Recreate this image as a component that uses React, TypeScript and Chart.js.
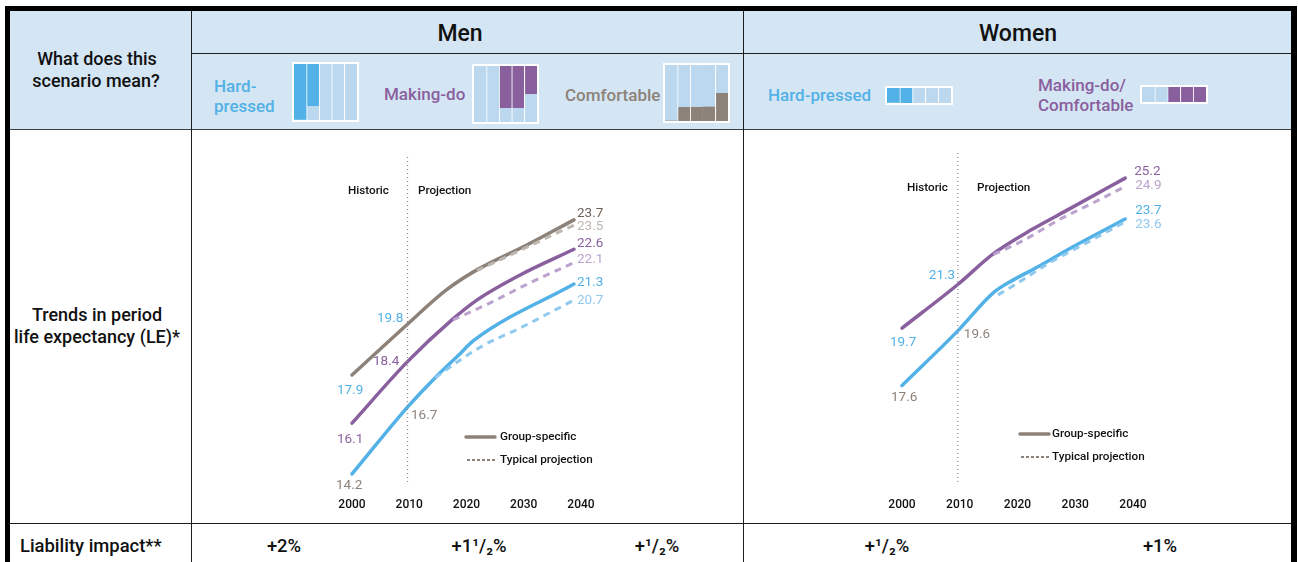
import React, { useEffect, useRef } from "react";
import { Chart, registerables } from "chart.js";

Chart.register(...registerables);

const FONT = "Roboto, sans-serif";
const INK = "#111111";
const BLUE = "#52b1e6";
const PURPLE = "#8a5f9e";
const GREY = "#8d8279";
const GREY_DARK = "#6e6258";
const BLUE_SOFT = "#8fc9ee";
const PURPLE_SOFT = "#bba3ce";
const GREY_SOFT = "#bdb7b0";
const HEADER_BG = "#d4e6f4";
const CELL_LIGHT = "#bcd8ee";

// Tick labels
const tickYears = [2000, 2010, 2020, 2030, 2040];

// Men: group-specific series
const menHardYears = [2000, 2010, 2015, 2019, 2022, 2040];
const menHardValues = [14.2, 16.7, 17.8, 18.6, 19.2, 21.3];
const menMakingYears = [2000, 2010, 2018, 2022.5, 2030.3, 2040];
const menMakingValues = [16.1, 18.4, 19.96, 20.7, 21.64, 22.6];
const menComfortYears = [2000, 2010, 2017, 2022.5, 2031.5, 2040];
const menComfortValues = [17.9, 19.8, 21.08, 21.83, 22.76, 23.7];

// Men: typical projection series
const menHardTypYears = [2015, 2019.5, 2023.6, 2030.3, 2040];
const menHardTypValues = [17.8, 18.46, 19.0, 19.66, 20.7];
const menMakingTypYears = [2018.2, 2024.9, 2032, 2040];
const menMakingTypValues = [19.96, 20.6, 21.34, 22.1];
const menComfortTypYears = [2022.5, 2029.7, 2036.2, 2040];
const menComfortTypValues = [21.8, 22.5, 23.14, 23.5];

// Women: group-specific series
const womenHardYears = [2000, 2010, 2016.4, 2019.9, 2024.2, 2030.1, 2040];
const womenHardValues = [17.6, 19.6, 21.0, 21.46, 21.93, 22.62, 23.7];
const womenMakingYears = [2000, 2010, 2016.4, 2023.5, 2030.1, 2040];
const womenMakingValues = [19.7, 21.3, 22.43, 23.34, 24.08, 25.2];

// Women: typical projection series
const womenHardTypYears = [2017.2, 2019.9, 2026.5, 2033.2, 2040];
const womenHardTypValues = [20.92, 21.25, 22.1, 22.84, 23.6];
const womenMakingTypYears = [2016.4, 2021.7, 2028.3, 2035.9, 2040];
const womenMakingTypValues = [22.4, 22.91, 23.69, 24.46, 24.9];

// Share of each scenario column that is shaded, per group
const hardPressedMen = [100, 75, 0, 0, 0];
const makingDoMen = [0, 0, 75, 75, 50];
const comfortableMen = [0, 25, 25, 25, 50];
const hardPressedWomen = [100, 100, 0, 0, 0];
const makingDoWomen = [0, 0, 100, 100, 100];

const pts = (xs: number[], ys: number[]) => xs.map((x, i) => ({ x, y: ys[i] }));

type ValueLabel = { year: number; value: number; dx: number; dy: number; color: string };
type PanelProps = {
  left: number;
  top: number;
  width: number;
  height: number;
  padding: { left: number; right: number; top: number; bottom: number };
  xMax: number;
  yMin: number;
  yMax: number;
  series: { xs: number[]; ys: number[]; color: string; dashed: boolean }[];
  labels: ValueLabel[];
  historic: { x: number; y: number };
  projection: { x: number; y: number };
  legend: { lineX: number; dashX: number; endX: number; textX: number; y1: number; y2: number };
};

// Writes value labels, the era captions and the line-style key onto the chart
const annotationPlugin = {
  id: "panelNotes",
  afterDatasetsDraw(chart: any, _args: any, opts: any) {
    const { ctx, scales } = chart;
    ctx.save();
    ctx.textBaseline = "middle";
    ctx.textAlign = "left";
    ctx.font = `400 13.5px ${FONT}`;
    for (const l of opts.labels as ValueLabel[]) {
      ctx.fillStyle = l.color;
      ctx.fillText(l.value.toFixed(1), scales.x.getPixelForValue(l.year) + l.dx, scales.y.getPixelForValue(l.value) + l.dy);
    }
    ctx.fillStyle = INK;
    ctx.font = `500 11.7px ${FONT}`;
    ctx.fillText("Historic", opts.historic.x, opts.historic.y);
    ctx.fillText("Projection", opts.projection.x, opts.projection.y);
    const lg = opts.legend;
    ctx.fillText("Group-specific", lg.textX, lg.y1);
    ctx.fillText("Typical projection", lg.textX, lg.y2);
    ctx.strokeStyle = GREY;
    ctx.lineCap = "round";
    ctx.lineWidth = 3.5;
    ctx.beginPath();
    ctx.moveTo(lg.lineX, lg.y1);
    ctx.lineTo(lg.endX, lg.y1);
    ctx.stroke();
    ctx.lineCap = "butt";
    ctx.lineWidth = 2;
    ctx.setLineDash([3, 2]);
    ctx.beginPath();
    ctx.moveTo(lg.dashX, lg.y2);
    ctx.lineTo(lg.endX, lg.y2);
    ctx.stroke();
    ctx.restore();
  },
};

function TrendPanel(p: PanelProps) {
  const ref = useRef<HTMLCanvasElement>(null);
  useEffect(() => {
    const datasets: any[] = [
      {
        label: "2010 divider",
        data: [{ x: 2010, y: p.yMin }, { x: 2010, y: p.yMax }],
        borderColor: "#8a8a8a",
        borderWidth: 1.2,
        borderDash: [1, 3],
        pointRadius: 0,
        xAxisID: "x",
        yAxisID: "y",
      },
      ...[...p.series]
        .sort((a, b) => Number(b.dashed) - Number(a.dashed))
        .map((s) => ({
          data: pts(s.xs, s.ys),
          borderColor: s.color,
          borderWidth: s.dashed ? 3 : 3.5,
          borderDash: s.dashed ? [7, 5.5] : [],
          borderCapStyle: s.dashed ? "butt" : "round",
          borderJoinStyle: "round",
          pointRadius: 0,
          cubicInterpolationMode: "monotone",
          clip: false,
          xAxisID: "x",
          yAxisID: "y",
        })),
    ];
    const chart = new Chart(ref.current!, {
      type: "line",
      data: { datasets },
      plugins: [annotationPlugin],
      options: {
        animation: false,
        responsive: false,
        layout: { padding: p.padding },
        plugins: {
          legend: { display: false },
          tooltip: { enabled: false },
          panelNotes: { labels: p.labels, historic: p.historic, projection: p.projection, legend: p.legend },
        },
        scales: {
          x: { type: "linear", display: false, min: 2000, max: p.xMax },
          y: { type: "linear", display: false, min: p.yMin, max: p.yMax },
          years: {
            type: "linear",
            axis: "x",
            position: "bottom",
            min: tickYears[0],
            max: tickYears[tickYears.length - 1],
            afterBuildTicks: (axis: any) => {
              axis.ticks = tickYears.map((value) => ({ value }));
            },
            afterFit: (axis: any) => {
              axis.height = 40;
            },
            grid: { display: false, drawTicks: false },
            border: { display: false },
            ticks: {
              padding: 16,
              maxRotation: 0,
              autoSkip: false,
              color: INK,
              font: { family: FONT, size: 12, weight: 500 },
              callback: (v: any) => String(v),
            },
          },
        },
      } as any,
    });
    return () => chart.destroy();
  }, []);
  return (
    <canvas
      ref={ref}
      width={p.width}
      height={p.height}
      style={{ position: "absolute", left: p.left, top: p.top, width: p.width, height: p.height }}
    />
  );
}

// Five-column scenario glyph: shaded share hangs from the top or sits on the base
function ScenarioGlyph(p: {
  left: number;
  top: number;
  width: number;
  height: number;
  shaded: number[];
  color: string;
  fromBase?: boolean;
  joined?: number[];
}) {
  const ref = useRef<HTMLCanvasElement>(null);
  useEffect(() => {
    const rest = p.shaded.map((v) => 100 - v);
    const seam = (ctx: any) => (ctx.dataIndex === 0 || (p.joined || []).includes(ctx.dataIndex) ? 0 : 1);
    const common = {
      categoryPercentage: 1,
      barPercentage: 1,
      borderColor: "#ffffff",
      borderSkipped: false,
      borderWidth: (ctx: any) => ({ left: seam(ctx), right: 0, top: 0, bottom: 0 }),
    };
    const shadedSet = { ...common, data: p.shaded, backgroundColor: p.color };
    const restSet = { ...common, data: rest, backgroundColor: CELL_LIGHT };
    const chart = new Chart(ref.current!, {
      type: "bar",
      data: {
        labels: p.shaded.map((_, i) => String(i + 1)),
        datasets: p.fromBase ? [shadedSet, restSet] : [restSet, shadedSet],
      } as any,
      options: {
        animation: false,
        responsive: false,
        plugins: { legend: { display: false }, tooltip: { enabled: false } },
        layout: { padding: 0 },
        scales: {
          x: { display: false, stacked: true },
          y: { display: false, stacked: true, min: 0, max: 100 },
        },
      } as any,
    });
    return () => chart.destroy();
  }, []);
  return (
    <canvas
      ref={ref}
      width={p.width}
      height={p.height}
      style={{
        position: "absolute",
        left: p.left,
        top: p.top,
        width: p.width,
        height: p.height,
        border: "2px solid #ffffff",
        boxSizing: "content-box",
      }}
    />
  );
}

function Text(p: {
  x: number;
  y: number;
  size?: number;
  weight?: number;
  color?: string;
  center?: boolean;
  children: React.ReactNode;
}) {
  return (
    <div
      style={{
        position: "absolute",
        left: p.x,
        top: p.y,
        transform: p.center ? "translate(-50%, -50%)" : "translateY(-50%)",
        fontFamily: FONT,
        fontSize: p.size ?? 17,
        fontWeight: p.weight ?? 500,
        color: p.color ?? INK,
        whiteSpace: "nowrap",
        lineHeight: 1,
      }}
    >
      {p.children}
    </div>
  );
}

function Rule(p: { x: number; y: number; w: number; h: number; c?: string }) {
  return <div style={{ position: "absolute", left: p.x, top: p.y, width: p.w, height: p.h, background: p.c ?? "#1c1c1c" }} />;
}

const menSeries = [
  { xs: menHardTypYears, ys: menHardTypValues, color: BLUE_SOFT, dashed: true },
  { xs: menMakingTypYears, ys: menMakingTypValues, color: PURPLE_SOFT, dashed: true },
  { xs: menComfortTypYears, ys: menComfortTypValues, color: GREY_SOFT, dashed: true },
  { xs: menHardYears, ys: menHardValues, color: BLUE, dashed: false },
  { xs: menMakingYears, ys: menMakingValues, color: PURPLE, dashed: false },
  { xs: menComfortYears, ys: menComfortValues, color: GREY, dashed: false },
];

const womenSeries = [
  { xs: womenHardTypYears, ys: womenHardTypValues, color: BLUE_SOFT, dashed: true },
  { xs: womenMakingTypYears, ys: womenMakingTypValues, color: PURPLE_SOFT, dashed: true },
  { xs: womenHardYears, ys: womenHardValues, color: BLUE, dashed: false },
  { xs: womenMakingYears, ys: womenMakingValues, color: PURPLE, dashed: false },
];

const menLabels: ValueLabel[] = [
  { year: 2040, value: 23.7, dx: 3, dy: -6, color: GREY_DARK },
  { year: 2040, value: 23.5, dx: 3, dy: 1, color: GREY_SOFT },
  { year: 2040, value: 22.6, dx: 3, dy: -6, color: PURPLE },
  { year: 2040, value: 22.1, dx: 3, dy: -3, color: PURPLE_SOFT },
  { year: 2040, value: 21.3, dx: 3, dy: -1, color: BLUE },
  { year: 2040, value: 20.7, dx: 3, dy: 1, color: BLUE_SOFT },
  { year: 2010, value: 19.8, dx: -30.5, dy: -6, color: BLUE },
  { year: 2010, value: 18.4, dx: -34.5, dy: 0, color: PURPLE },
  { year: 2000, value: 17.9, dx: -15, dy: 16, color: BLUE },
  { year: 2000, value: 16.1, dx: -15, dy: 16, color: PURPLE },
  { year: 2000, value: 14.2, dx: -16, dy: 12, color: GREY },
  { year: 2010, value: 16.7, dx: 3.5, dy: 9, color: GREY },
];

const womenLabels: ValueLabel[] = [
  { year: 2040, value: 25.2, dx: 9, dy: -6, color: PURPLE },
  { year: 2040, value: 24.9, dx: 10, dy: -1, color: PURPLE_SOFT },
  { year: 2040, value: 23.7, dx: 10, dy: -8, color: BLUE },
  { year: 2040, value: 23.6, dx: 10, dy: 3, color: BLUE_SOFT },
  { year: 2010, value: 21.3, dx: -29, dy: -9, color: BLUE },
  { year: 2010, value: 19.6, dx: 6, dy: 4, color: GREY },
  { year: 2000, value: 19.7, dx: -12, dy: 14, color: BLUE },
  { year: 2000, value: 17.6, dx: -11, dy: 12, color: GREY },
];

export default function App() {
  return (
    <div style={{ position: "absolute", left: 0, top: 0, width: 1298, height: 562, overflow: "hidden", background: "#ffffff" }}>
      {/* Header shading */}
      <Rule x={10} y={11} w={1281} h={118} c={HEADER_BG} />

      {/* Frame and grid lines */}
      <Rule x={5} y={6} w={1292} h={5} c="#000000" />
      <Rule x={5} y={6} w={5} h={556} c="#000000" />
      <Rule x={1291} y={6} w={6} h={556} c="#000000" />
      <Rule x={191} y={53} w={1100} h={1} />
      <Rule x={10} y={129} w={1281} h={1} c="#3a3f44" />
      <Rule x={10} y={523} w={1281} h={1} />
      <Rule x={191} y={11} w={1} h={551} />
      <Rule x={743} y={11} w={1} h={551} />

      {/* Row headings */}
      <Text x={97} y={59} size={18} center>What does this</Text>
      <Text x={96} y={81} size={18} center>scenario mean?</Text>
      <Text x={97} y={315} size={18} center>Trends in period</Text>
      <Text x={97} y={337} size={18} center>life expectancy (LE)*</Text>
      <Text x={20} y={546} size={18.4}>Liability impact**</Text>

      {/* Column headings */}
      <Text x={460} y={33} size={23} center>Men</Text>
      <Text x={1018} y={33} size={23} center>Women</Text>

      {/* Men scenarios */}
      <Text x={214} y={86} color={BLUE}>Hard-</Text>
      <Text x={214} y={106} color={BLUE}>pressed</Text>
      <ScenarioGlyph left={292} top={62} width={63} height={56} shaded={hardPressedMen} color={BLUE} />
      <Text x={384} y={94} color={PURPLE}>Making-do</Text>
      <ScenarioGlyph left={472} top={64} width={63} height={56} shaded={makingDoMen} color={PURPLE} />
      <Text x={565} y={95} color={GREY}>Comfortable</Text>
      <ScenarioGlyph left={663} top={63} width={63} height={56} shaded={comfortableMen} color={GREY} fromBase joined={[3]} />

      {/* Women scenarios */}
      <Text x={768} y={95} color={BLUE}>Hard-pressed</Text>
      <ScenarioGlyph left={885} top={86} width={64} height={15} shaded={hardPressedWomen} color={BLUE} />
      <Text x={1038} y={85} color={PURPLE}>Making-do/</Text>
      <Text x={1038} y={105} color={PURPLE}>Comfortable</Text>
      <ScenarioGlyph left={1140} top={85} width={64} height={15} shaded={makingDoWomen} color={PURPLE} />

      {/* Life expectancy trends */}
      <TrendPanel
        left={192}
        top={130}
        width={550}
        height={392}
        padding={{ left: 160, right: 161, top: 27, bottom: 0 }}
        xMax={2041.26}
        yMin={13.9}
        yMax={26.05}
        series={menSeries}
        labels={menLabels}
        historic={{ x: 156, y: 61 }}
        projection={{ x: 226, y: 61 }}
        legend={{ lineX: 274, dashX: 275, endX: 303, textX: 308, y1: 307, y2: 330 }}
      />
      <TrendPanel
        left={744}
        top={130}
        width={546}
        height={392}
        padding={{ left: 158, right: 157, top: 23, bottom: 0 }}
        xMax={2041.4}
        yMin={14.06}
        yMax={26.12}
        series={womenSeries}
        labels={womenLabels}
        historic={{ x: 163, y: 58 }}
        projection={{ x: 233, y: 58 }}
        legend={{ lineX: 276, dashX: 277, endX: 305, textX: 308, y1: 304, y2: 327 }}
      />

      {/* Liability impact */}
      <Text x={284} y={546} size={18.4} center>+2%</Text>
      <Text x={479} y={546} size={18.4} center>+1¹/₂%</Text>
      <Text x={657} y={546} size={18.4} center>+¹/₂%</Text>
      <Text x={887} y={546} size={18.4} center>+¹/₂%</Text>
      <Text x={1160} y={546} size={18.4} center>+1%</Text>
    </div>
  );
}
